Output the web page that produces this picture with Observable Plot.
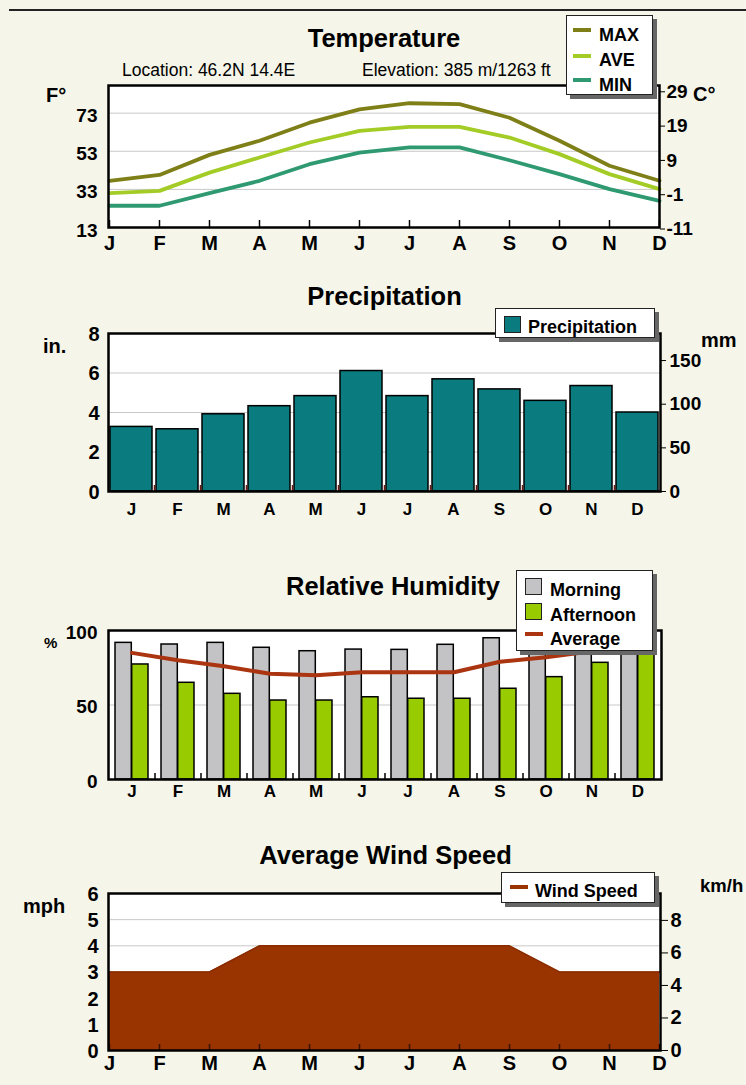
<!DOCTYPE html>
<html>
<head>
<meta charset="utf-8">
<script src="https://cdn.jsdelivr.net/npm/d3@7"></script>
<script src="https://cdn.jsdelivr.net/npm/@observablehq/plot@0.6"></script>
<style>
  html, body { margin: 0; padding: 0; background: #f5f5e9; }
  #root { position: relative; width: 746px; height: 1085px; overflow: hidden; background: #f5f5e9;
          font-family: "Liberation Sans", Arial, sans-serif; color: #000; }
  .t { position: absolute; white-space: nowrap; line-height: 1; }
  .legend { position: absolute; box-sizing: border-box; background: #fff; border: 1.5px solid #222;
            box-shadow: 4px 4px 0 #666; z-index: 5; }
  .sw { position: absolute; box-sizing: border-box; }
  svg { position: absolute; left: 0; }
</style>
</head>
<body>
<div id="root"></div>
<script>
// ---------------- DATA ----------------
const monthNames  = ["Jan","Feb","Mar","Apr","May","Jun","Jul","Aug","Sep","Oct","Nov","Dec"];
const monthLabels = ["J","F","M","A","M","J","J","A","S","O","N","D"];

// Temperature (°F)
const tempMax = [37.5, 40.6, 51.1, 58.5, 68.0, 75.0, 78.2, 77.7, 70.6, 58.5, 45.4, 37.5];
const tempAve = [31.0, 32.2, 41.8, 49.7, 57.6, 63.7, 65.8, 65.8, 60.2, 51.5, 41.0, 33.1];
const tempMin = [24.4, 24.4, 31.0, 37.5, 46.2, 52.3, 55.0, 55.0, 48.3, 41.0, 33.1, 27.0];
const tempTicksF = [13, 33, 53, 73];
const tempTicksC = [-11, -1, 9, 19, 29];

// Precipitation (inches)
const precipIn = [3.27, 3.15, 3.91, 4.32, 4.83, 6.10, 4.83, 5.68, 5.17, 4.59, 5.34, 4.00];
const precipTicksIn = [0, 2, 4, 6, 8];
const precipTicksMm = [0, 50, 100, 150];

// Relative humidity (%)
const humMorning   = [91.7, 90.6, 91.7, 88.4, 86.1, 87.2, 87.0, 90.4, 94.8, 93.0, 93.0, 92.0];
const humAfternoon = [77.2, 64.9, 57.5, 53.0, 53.0, 55.2, 54.2, 54.2, 60.9, 68.7, 78.3, 86.0];
const humAverage   = [85, 80, 76, 71, 70, 72, 72, 72, 79, 82, 86, 89];
const humTicks = [0, 50, 100];

// Wind speed (mph)
const windMph = [3, 3, 3, 4, 4, 4, 4, 4, 4, 3, 3, 3];
const windTicksMph = [0, 1, 2, 3, 4, 5, 6];
const windTicksKmh = [0, 2, 4, 6, 8];

// ---------------- STYLE ----------------
const C = {
  max: "#7f7f18", ave: "#a4cc26", min: "#2f9a72",
  precip: "#0a7b7e", morning: "#c3c3c6", afternoon: "#99cc00",
  average: "#aa3510", wind: "#993300", grid: "#c8c8c8"
};
const FONT = "'Liberation Sans', Arial, sans-serif";
const root = document.getElementById("root");
const monthFmt = m => monthLabels[monthNames.indexOf(m)];

function text(str, x, baseline, fs, opts = {}) {
  const d = document.createElement("div");
  d.className = "t";
  d.textContent = str;
  d.style.fontSize = fs + "px";
  d.style.fontWeight = opts.weight || "bold";
  d.style.top = (baseline - 0.8465 * fs) + "px";
  if (opts.center) { d.style.left = x + "px"; d.style.transform = "translateX(-50%)"; }
  else d.style.left = x + "px";
  (opts.parent || root).appendChild(d);
  return d;
}
function box(cls, left, top, w, h, style = {}, parent = root) {
  const d = document.createElement("div");
  d.className = cls;
  Object.assign(d.style, {left: left + "px", top: top + "px", width: w + "px", height: h + "px"}, style);
  parent.appendChild(d);
  return d;
}
function panel(top, opts) {
  const svg = Plot.plot(Object.assign({
    width: 746, marginLeft: 108,
    style: {background: "transparent", fontFamily: FONT, color: "#000", overflow: "visible"}
  }, opts));
  svg.style.top = top + "px";
  root.appendChild(svg);
}
const axisText = {fontWeight: "bold", fill: "#000", fontFamily: FONT};

// top rule
box("sw", 9, 8.5, 737, 2, {background: "#222"});

// ---------------- TEMPERATURE ----------------
text("Temperature", 384, 48, 25.5, {center: true});
text("Location: 46.2N 14.4E", 122, 77, 17.5, {weight: "normal"});
text("Elevation: 385 m/1263 ft", 362, 77, 17.5, {weight: "normal"});
text("F°", 46, 102, 20);
text("C°", 693, 101, 20);
{
  const fh = 142;
  panel(80, {
    height: 5 + fh + 30, marginTop: 5, marginBottom: 30, marginRight: 87,
    x: {type: "point", domain: monthNames, padding: 0, label: null},
    y: {domain: [13, 87.5], label: null},
    marks: [
      Plot.frame({fill: "white", stroke: null}),
      Plot.gridY(tempTicksF, {stroke: C.grid, strokeOpacity: 1}),
      Plot.tickX(monthNames, {x: d => d, insetTop: fh - 7, stroke: "#000", strokeWidth: 1.5}),
      Plot.lineY(tempMin, {x: monthNames, stroke: C.min, strokeWidth: 3.8}),
      Plot.lineY(tempAve, {x: monthNames, stroke: C.ave, strokeWidth: 3.8}),
      Plot.lineY(tempMax, {x: monthNames, stroke: C.max, strokeWidth: 3.8}),
      Plot.axisY({ticks: tempTicksF, anchor: "left", tickSize: 0, tickPadding: 11, fontSize: 19, dy: 3, label: null, ...axisText}),
      Plot.axisY({ticks: tempTicksC.map(c => c * 9 / 5 + 32), anchor: "right", tickSize: 5, tickPadding: 2, fontSize: 19,
                  tickFormat: f => Math.round((f - 32) * 5 / 9), label: null, ...axisText, stroke: "#000"}),
      Plot.axisX({anchor: "bottom", tickSize: 0, tickPadding: 8, fontSize: 20, tickFormat: monthFmt, label: null, ...axisText}),
      Plot.frame({stroke: "#000", strokeWidth: 2.5})
    ]
  });
  const lg = box("legend", 566, 15, 87, 80);
  [["MAX", C.max, 30, 42], ["AVE", C.ave, 56, 67], ["MIN", C.min, 80, 92]].forEach(([name, col, ly, bl]) => {
    box("sw", 6, ly - 15 - 1.5 - 1.5, 18, 3.5, {background: col}, lg);
    text(name, 32, bl - 15 - 1.5, 18, {parent: lg});
  });
}

// ---------------- PRECIPITATION ----------------
text("Precipitation", 384.5, 306, 25.5, {center: true});
text("in.", 43, 352.5, 20);
text("mm", 701, 347, 20);
{
  const fh = 158;
  const mmToIn = 8 / 181;
  panel(320, {
    height: 13 + fh + 30, marginTop: 13, marginBottom: 30, marginRight: 86,
    x: {type: "band", domain: monthNames, paddingInner: 0.08, paddingOuter: 0.04, label: null},
    y: {domain: [0, 8], label: null},
    marks: [
      Plot.frame({fill: "white", stroke: null}),
      Plot.gridY([2, 4, 6], {stroke: C.grid, strokeOpacity: 1}),
      Plot.barY(precipIn, {x: monthNames, y: d => d, fill: C.precip, stroke: "#000", strokeWidth: 1.5}),
      Plot.tickX(monthNames.slice(0, 11), {x: d => d, dx: 23, insetTop: fh - 6, stroke: "#6a1a10", strokeWidth: 1.5}),
      Plot.axisY({ticks: precipTicksIn, anchor: "left", tickSize: 0, tickPadding: 9, fontSize: 20, dy: 1, label: null, ...axisText}),
      Plot.axisY({ticks: precipTicksMm.map(m => m * mmToIn), anchor: "right", tickSize: 5, tickPadding: 4, fontSize: 19,
                  tickFormat: v => Math.round(v / mmToIn), label: null, ...axisText, stroke: "#000"}),
      Plot.axisX({anchor: "bottom", tickSize: 0, tickPadding: 11, fontSize: 17, tickFormat: monthFmt, label: null, ...axisText}),
      Plot.frame({stroke: "#000", strokeWidth: 2.5})
    ]
  });
  const lg = box("legend", 495, 308, 160, 30);
  box("sw", 8, 6.5, 17, 17, {background: C.precip, border: "1.5px solid #222"}, lg);
  text("Precipitation", 32, 24, 18, {parent: lg});
}

// ---------------- RELATIVE HUMIDITY ----------------
text("Relative Humidity", 393, 596, 25.5, {center: true});
text("%", 44, 648, 15);
{
  const fh = 149;
  const half = 16.7;
  panel(615, {
    height: 15 + fh + 30, marginTop: 15, marginBottom: 30, marginRight: 85,
    x: {type: "band", domain: monthNames, paddingInner: 0.274, paddingOuter: 0.137, label: null},
    y: {domain: [0, 100], label: null},
    marks: [
      Plot.frame({fill: "white", stroke: null}),
      Plot.gridY([50], {stroke: C.grid, strokeOpacity: 1}),
      Plot.barY(humMorning, {x: monthNames, y: d => d, insetRight: half, fill: C.morning, stroke: "#000", strokeWidth: 1.5}),
      Plot.barY(humAfternoon, {x: monthNames, y: d => d, insetLeft: half, fill: C.afternoon, stroke: "#000", strokeWidth: 1.5}),
      Plot.lineY(humAverage, {x: monthNames, stroke: C.average, strokeWidth: 4}),
      Plot.tickX(monthNames.slice(0, 11), {x: d => d, dx: 23, insetTop: fh - 6, stroke: "#000", strokeWidth: 1.5}),
      Plot.axisY({ticks: humTicks, anchor: "left", tickSize: 0, tickPadding: 11, fontSize: 19, dy: 2, label: null, ...axisText}),
      Plot.axisX({anchor: "bottom", tickSize: 0, tickPadding: 5, fontSize: 17, tickFormat: monthFmt, label: null, ...axisText}),
      Plot.frame({stroke: "#000", strokeWidth: 2.5})
    ]
  });
  const lg = box("legend", 516, 570, 137, 81);
  box("sw", 8, 6.5, 17, 17, {background: C.morning, border: "1.5px solid #222"}, lg);
  box("sw", 8, 31.5, 17, 17, {background: C.afternoon, border: "1.5px solid #222"}, lg);
  box("sw", 8, 61, 18, 3.5, {background: C.average}, lg);
  text("Morning", 33, 25.5, 18, {parent: lg});
  text("Afternoon", 33, 50.5, 18, {parent: lg});
  text("Average", 33, 74.5, 18, {parent: lg});
}

// ---------------- WIND ----------------
text("Average Wind Speed", 385.5, 865, 25.5, {center: true});
text("mph", 23, 913, 20);
text("km/h", 700, 893, 18.5);
{
  const fh = 157;
  const kmhToMph = 1 / 1.609;
  panel(880, {
    height: 13 + fh + 30, marginTop: 13, marginBottom: 30, marginRight: 86,
    x: {type: "point", domain: monthNames, padding: 0, label: null},
    y: {domain: [0, 6], label: null},
    marks: [
      Plot.frame({fill: "white", stroke: null}),
      Plot.gridY([1, 2, 3, 4, 5], {stroke: C.grid, strokeOpacity: 1}),
      Plot.areaY(windMph, {x: monthNames, y: d => d, fill: C.wind}),
      Plot.lineY(windMph, {x: monthNames, y: d => d, stroke: "#8a2c00", strokeWidth: 1.5}),
      Plot.tickX(monthNames, {x: d => d, insetTop: fh - 6, stroke: "#3a1000", strokeWidth: 1.5}),
      Plot.axisY({ticks: windTicksMph, anchor: "left", tickSize: 0, tickPadding: 10, fontSize: 20, dy: 1,
                  tickFormat: d => String(d), label: null, ...axisText}),
      Plot.axisY({ticks: windTicksKmh.map(k => k * kmhToMph), anchor: "right", tickSize: 7, tickPadding: 3, fontSize: 20,
                  tickFormat: v => Math.round(v / kmhToMph), label: null, ...axisText, stroke: "#000"}),
      Plot.axisX({anchor: "bottom", tickSize: 0, tickPadding: 5, fontSize: 20, tickFormat: monthFmt, label: null, ...axisText}),
      Plot.frame({stroke: "#000", strokeWidth: 2.5})
    ]
  });
  const lg = box("legend", 501, 872, 154, 31);
  box("sw", 8, 12, 18, 3.5, {background: C.wind}, lg);
  text("Wind Speed", 33, 24, 18, {parent: lg});
}
</script>
</body>
</html>
